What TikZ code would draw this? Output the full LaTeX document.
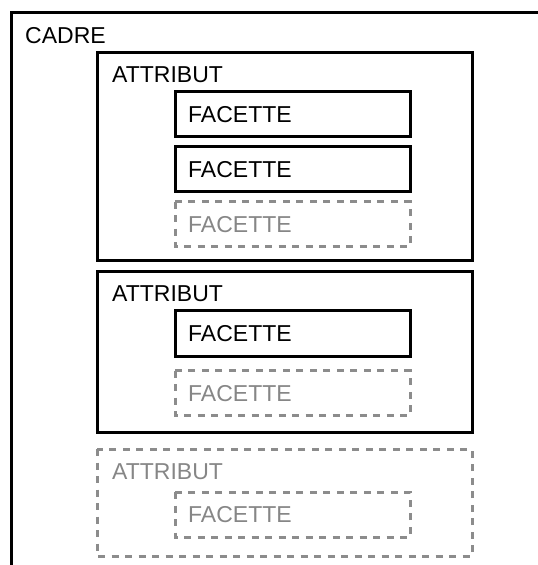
\documentclass[tikz,border=0pt]{standalone}
\usepackage{fontspec}
\setmainfont{Liberation Sans}
\usepackage{tikz}
\usetikzlibrary{positioning,calc}

\begin{document}
\begin{tikzpicture}[x=1pt,y=-1pt,
    solidbox/.style={line width=3pt,black},
    ghostbox/.style={line width=3pt,gray!90,dash pattern=on 7pt off 6.5pt},
    lbl/.style={anchor=base west,inner sep=0pt,font=\fontsize{23}{26}\selectfont},
    ghostlbl/.style={lbl,text=gray!95}]
          \useasboundingbox (0,0) rectangle (538,565);
          \clip (0,0) rectangle (538,565);

          % cadre
          \draw[solidbox] (11,12.5) rectangle (600,620);
          \node[lbl] (cadre) at (25,43) {CADRE};

          % attribut 1
          \draw[solidbox] (97,52) rectangle (472,260);
          \node[lbl] (att1) at (112,82) {ATTRIBUT};
          \draw[solidbox] (175,91.5) rectangle (410,136.5);
          \node[lbl] (fac11) at (188,122) {FACETTE};
          \draw[solidbox] (175,146.5) rectangle (410,191.5);
          \node[lbl] (fac12) at (188,177) {FACETTE};
          \draw[ghostbox] (175,201.5) rectangle (410,246.5);
          \node[ghostlbl] (fac13) at (188,232) {FACETTE};

          % attribut 2
          \draw[solidbox] (97,271) rectangle (472,432.5);
          \node[lbl] (att2) at (112,301) {ATTRIBUT};
          \draw[solidbox] (175,310.5) rectangle (410,356);
          \node[lbl] (fac21) at (188,341.5) {FACETTE};
          \draw[ghostbox] (175,370.5) rectangle (410,415.5);
          \node[ghostlbl] (fac22) at (188,401) {FACETTE};

          % attribut 3
          \draw[ghostbox] (97,449) rectangle (472,556);
          \node[ghostlbl] (att3) at (112,479) {ATTRIBUT};
          \draw[ghostbox] (175,492) rectangle (410,537);
          \node[ghostlbl] (fac31) at (188,522.5) {FACETTE};
        \end{tikzpicture}
\end{document}
